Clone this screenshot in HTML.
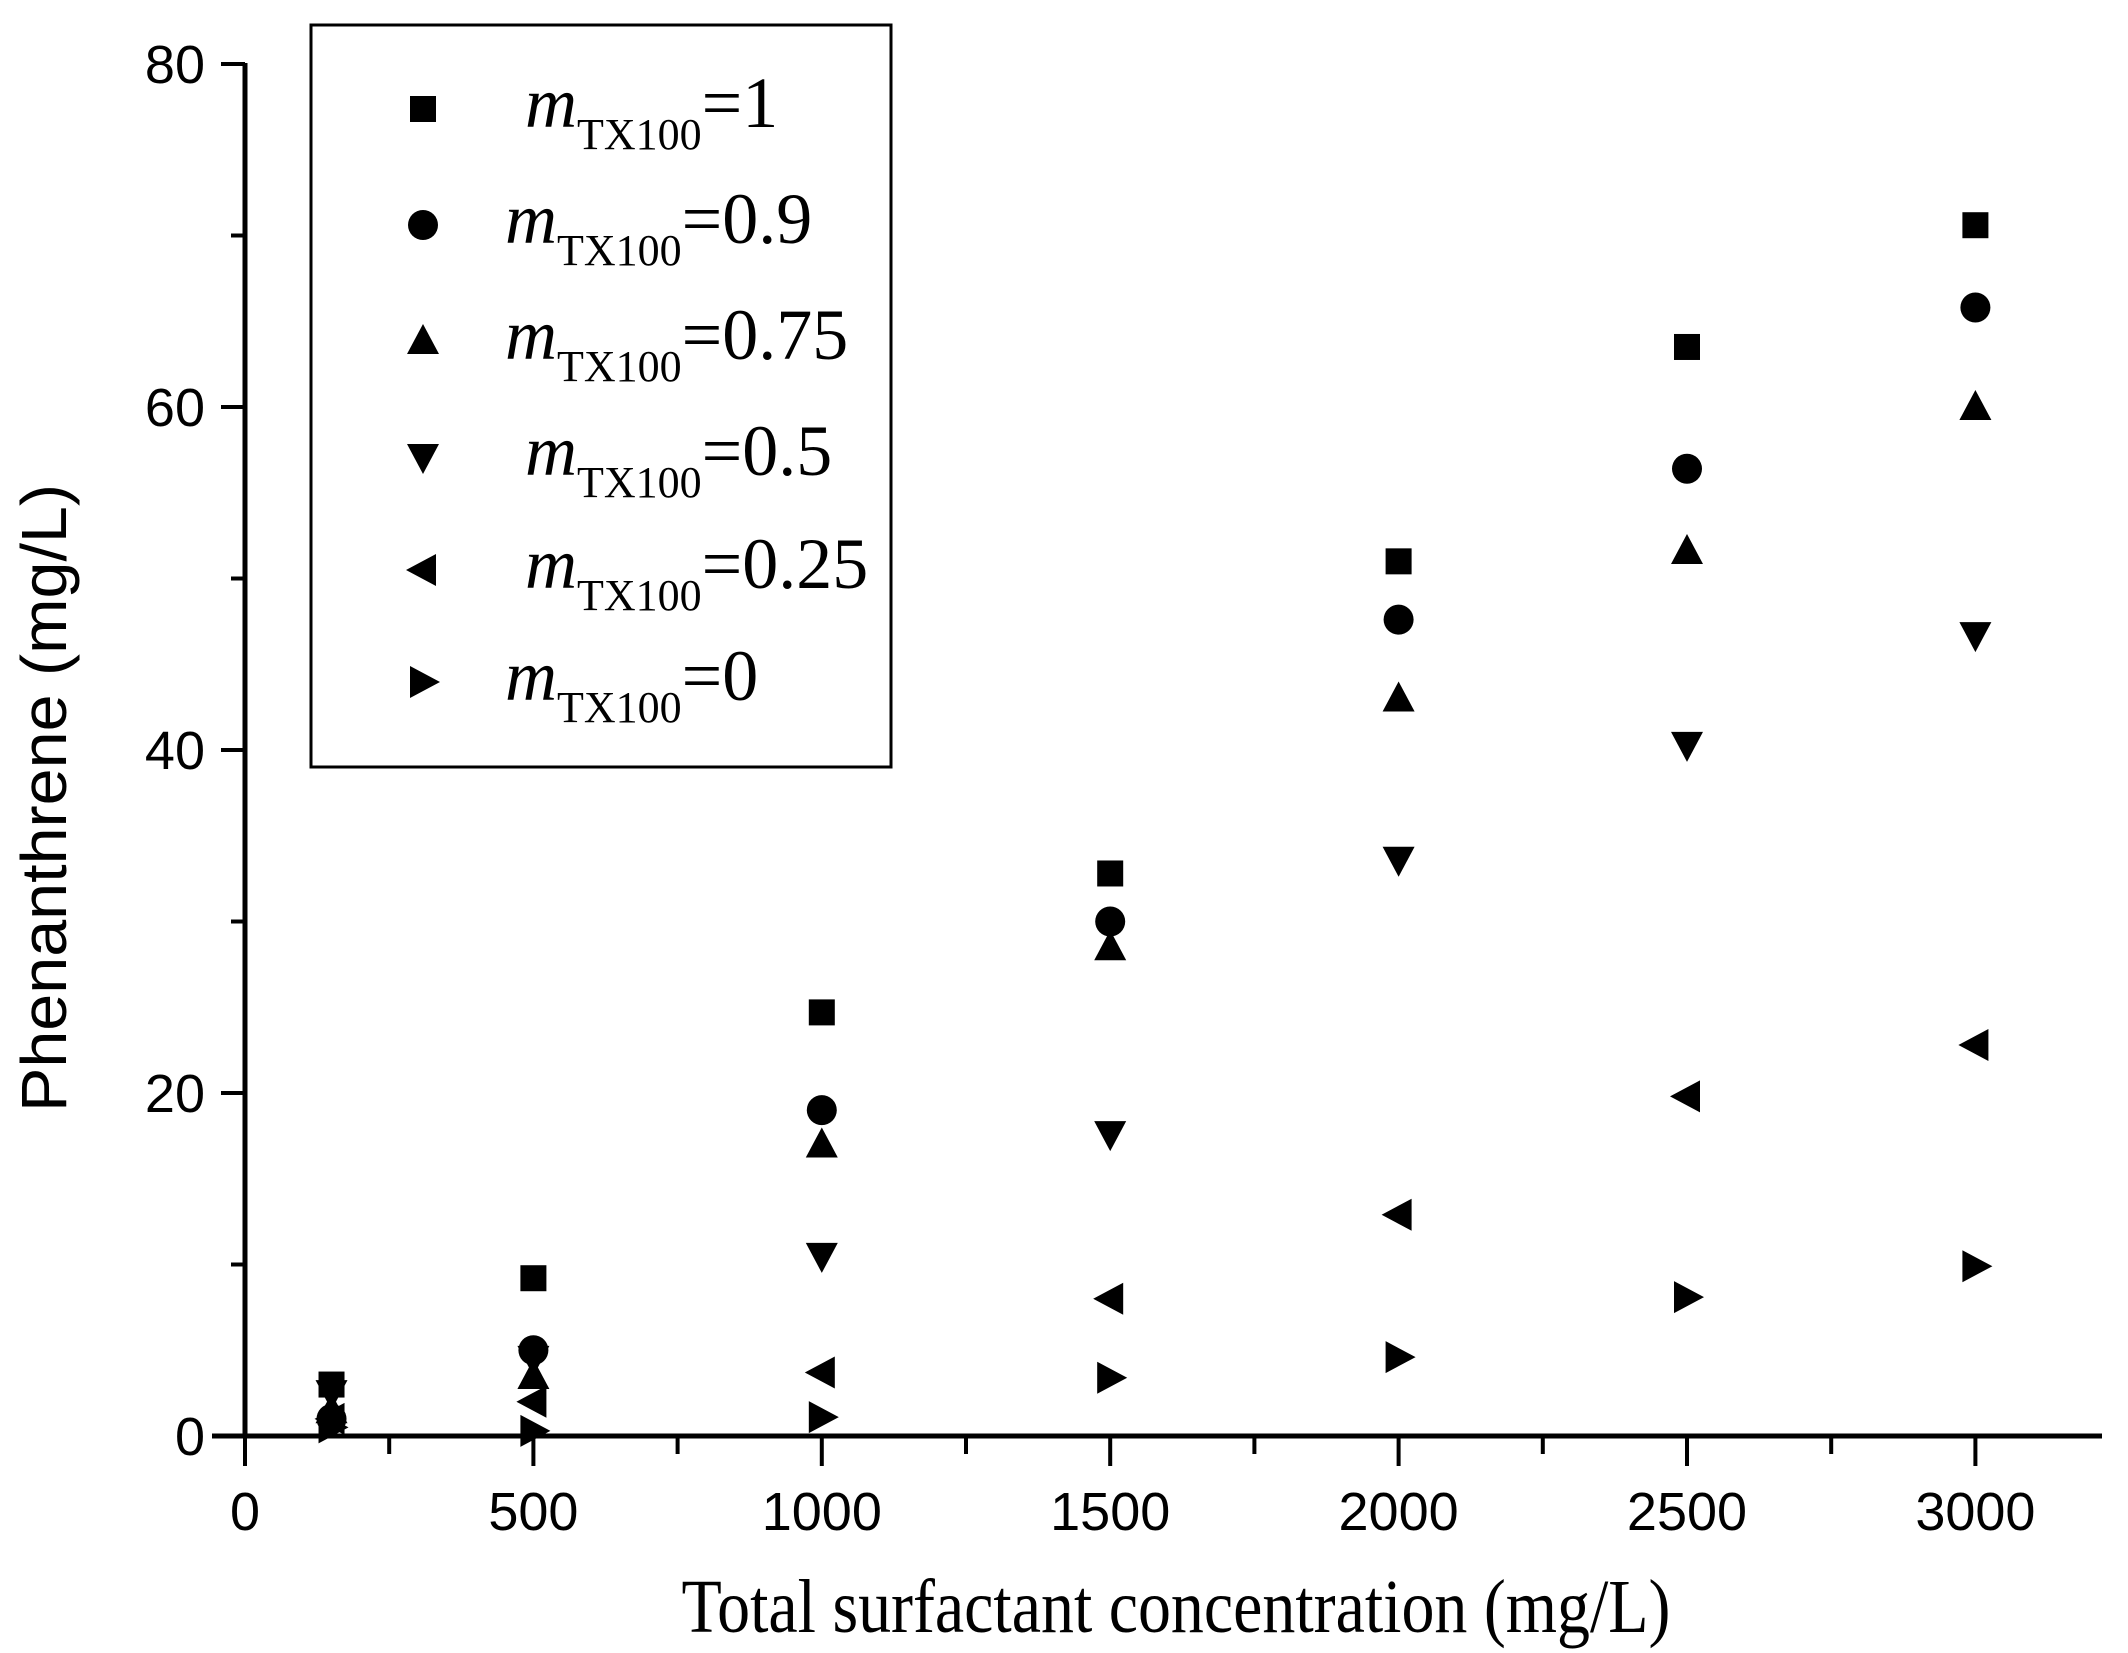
<!DOCTYPE html>
<html><head><meta charset="utf-8"><style>html,body{margin:0;padding:0;background:#fff}svg{display:block}</style></head>
<body>
<svg id="s" width="2128" height="1653" viewBox="0 0 2128 1653" xmlns="http://www.w3.org/2000/svg">
<rect width="2128" height="1653" fill="#fff"/>
<g id="ax" stroke="#000" stroke-width="5" fill="none">
<line x1="245" y1="63" x2="245" y2="1438"/>
<line x1="212" y1="1436" x2="2102" y2="1436"/>
</g>
<g id="tk" stroke="#000" stroke-width="4"></g>
<g font-family="Liberation Sans, Arial, sans-serif" font-size="54" fill="#000" id="lbl"></g>
<text transform="translate(66,798) rotate(-90)" text-anchor="middle" font-family="Liberation Sans, Arial, sans-serif" font-size="64" textLength="628" lengthAdjust="spacingAndGlyphs">Phenanthrene (mg/L)</text>
<text x="1176" y="1632" text-anchor="middle" font-family="Liberation Serif, Times New Roman, serif" font-size="76" textLength="989" lengthAdjust="spacingAndGlyphs">Total surfactant concentration (mg/L)</text>
<rect x="311" y="25" width="580" height="742" fill="none" stroke="#000" stroke-width="3"/>
<g id="leg" font-family="Liberation Serif, Times New Roman, serif" font-size="72"></g>
<g id="pts" fill="#000"></g>
</svg>
<script>
var NS="http://www.w3.org/2000/svg";
function el(p,t,a,txt){var e=document.createElementNS(NS,t);for(var k in a)e.setAttribute(k,a[k]);if(txt!=null)e.textContent=txt;document.getElementById(p).appendChild(e);return e;}
function X(v){return 245+v*0.5768;}function Y(v){return 1436-v*17.15;}
for(var v=0;v<=3000;v+=250){var maj=v%500==0;el("tk","line",{x1:X(v),x2:X(v),y1:1436,y2:1436+(maj?30:18)});
 if(maj)el("lbl","text",{x:X(v),y:1530,"text-anchor":"middle"},String(v));}
for(var v=0;v<=80;v+=10){var maj=v%20==0;el("tk","line",{x1:245,x2:245-(maj?24:14),y1:Y(v),y2:Y(v)});
 if(maj)el("lbl","text",{x:205,y:Y(v)+19,"text-anchor":"end"},String(v));}
var S=15;
function mk(g,type,cx,cy){var s=S;var p;
 if(type==0)el(g,"rect",{x:cx-s+2,y:cy-s+2,width:2*s-4,height:2*s-4});
 else if(type==1)el(g,"circle",{cx:cx,cy:cy,r:s});
 else{if(type==2)p=[[cx,cy-s-2],[cx+s+1,cy+s-2],[cx-s-1,cy+s-2]];
 if(type==3)p=[[cx,cy+s+2],[cx+s+1,cy-s+2],[cx-s-1,cy-s+2]];
 if(type==4)p=[[cx-s-2,cy],[cx+s-2,cy-s-1],[cx+s-2,cy+s+1]];
 if(type==5)p=[[cx+s+2,cy],[cx-s+2,cy-s-1],[cx-s+2,cy+s+1]];
 el(g,"polygon",{points:p.map(function(q){return q.join(",")}).join(" ")});}}
var xs=[150,500,1000,1500,2000,2500,3000];
var D=[[3,9.2,24.7,32.8,51,63.5,70.6],[1,5,19,30,47.6,56.4,65.8],[1.5,3.5,17,28.5,43,51.6,60],[2.5,4.5,10.5,17.6,33.6,40.3,46.7],[1,2,3.7,8,12.9,19.8,22.8],[0.5,0.3,1.1,3.4,4.6,8.1,9.9]];
for(var t=0;t<6;t++)for(var i=0;i<7;i++)mk("pts",t,X(xs[i]),Y(D[t][i]));
var ly=[109,225,341,457,570,682],lv=["1","0.9","0.75","0.5","0.25","0"],lx=[525,505,505,525,525,505];
for(var t=0;t<6;t++){mk("leg",t,423,ly[t]);
 var tx=el("leg","text",{x:lx[t],y:ly[t]+18});
 var a=document.createElementNS(NS,"tspan");a.setAttribute("font-style","italic");a.textContent="m";tx.appendChild(a);
 var b=document.createElementNS(NS,"tspan");b.setAttribute("font-size","44");b.setAttribute("dy","22");b.textContent="TX100";tx.appendChild(b);
 var c=document.createElementNS(NS,"tspan");c.setAttribute("dy","-22");c.textContent="="+lv[t];tx.appendChild(c);}
</script>
</body></html>
